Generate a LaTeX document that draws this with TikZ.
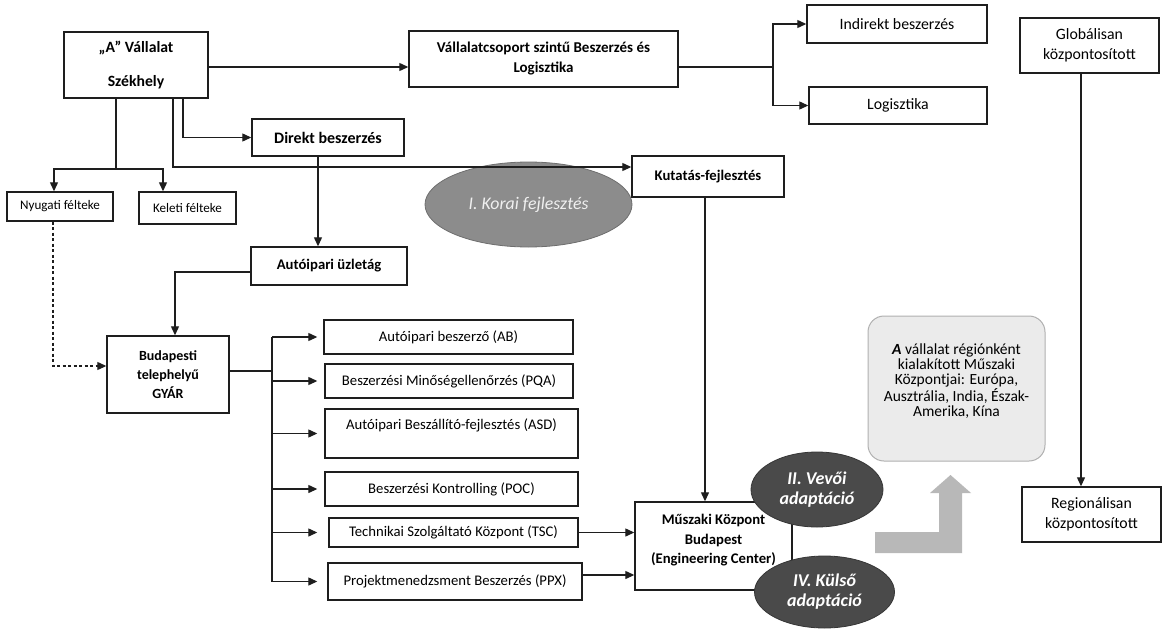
\documentclass[tikz,border=0pt]{standalone}
\usepackage{fontspec}
\setmainfont{Carlito}
\usetikzlibrary{arrows.meta,shapes.geometric}
\definecolor{lndark}{HTML}{1E1E1E}
\definecolor{ellA}{HTML}{8C8C8C}
\definecolor{ellAb}{HTML}{6E6E6E}
\definecolor{ellB}{HTML}{4A4A4A}
\definecolor{ellBb}{HTML}{363636}
\definecolor{rndfill}{HTML}{EBEBEB}
\definecolor{rnddraw}{HTML}{B0B0B0}
\definecolor{bigarr}{HTML}{B8B8B8}
\begin{document}
\begin{tikzpicture}[x=1pt,y=-1pt,
  >={Triangle[length=9pt,width=8pt]},
  arr/.style={->, line width=1.2pt, draw=lndark},
  ln/.style={line width=1.2pt, draw=lndark},
  bx/.style={draw=lndark, line width=1.4pt, fill=white, inner sep=1pt, align=center},
  bb/.style={bx, font=\fontsize{15}{19}\selectfont\bfseries},
  rb/.style={bx, font=\fontsize{15.8}{20}\selectfont},
  lb/.style={bx, font=\fontsize{14.7}{19}\selectfont},
  sb/.style={bx, font=\fontsize{13.1}{16}\selectfont},
  ellgray/.style={ellipse, fill=ellA, draw=ellAb, line width=0.8pt, inner sep=0pt, align=center, text=white!94!black, font=\fontsize{17.8}{20}\selectfont\itshape},
  elldark/.style={ellipse, fill=ellB, draw=ellBb, line width=0.8pt, inner sep=0pt, align=center, text=white, font=\fontsize{18}{20}\selectfont\bfseries\itshape},
  rndbox/.style={draw=rnddraw, fill=rndfill, line width=1pt, rounded corners=16pt, align=center, inner sep=2pt, font=\fontsize{15.5}{15}\selectfont}
]
\useasboundingbox[fill=white] (0,0) rectangle (1164,629);

% ---- boxes
\node[bb, font=\fontsize{15.7}{19}\selectfont\bfseries, minimum width=144pt, minimum height=66pt] (hq) at (136,65) {„A” Vállalat\\[15pt]Székhely};
\node[bb, font=\fontsize{15}{20}\selectfont\bfseries, minimum width=269pt, minimum height=56pt] (vcs) at (543.5,59) {Vállalatcsoport szintű Beszerzés és\\Logisztika};
\node[rb, minimum width=180pt, minimum height=38pt] (ind) at (897,24) {Indirekt beszerzés};
\node[rb, minimum width=178pt, minimum height=37pt] (log) at (898,105.5) {Logisztika};
\node[rb, minimum width=139pt, minimum height=55pt] (glob) at (1089.5,45.5) {Globálisan\\központosított};
\node[rb, minimum width=139pt, minimum height=55pt] (reg) at (1091.5,514.5) {Regionálisan\\központosított};
\node[bb, font=\fontsize{16}{19}\selectfont\bfseries, minimum width=152pt, minimum height=37pt] (direkt) at (328,137.5) {Direkt beszerzés};
\node[bb, font=\fontsize{14.7}{19}\selectfont\bfseries, minimum width=152pt, minimum height=41pt] (kut) at (708,176.5) {Kutatás-fejlesztés};
\node[sb, minimum width=106pt, minimum height=29pt] (nyug) at (60,206.5) {Nyugati félteke};
\node[sb, minimum width=97pt, minimum height=32pt] (kel) at (187.5,208) {Keleti félteke};
\node[bb, font=\fontsize{14.7}{19}\selectfont\bfseries, minimum width=156pt, minimum height=38pt] (auto) at (329,266) {Autóipari üzletág};
\node[bb, font=\fontsize{14}{19}\selectfont\bfseries, minimum width=122pt, minimum height=77pt] (bud) at (168,374.5) {Budapesti\\telephelyű\\GYÁR};
\node[lb, minimum width=249pt, minimum height=34pt] (ab) at (448.5,337) {Autóipari beszerző (AB)};
\node[lb, minimum width=248pt, minimum height=34pt] (pqa) at (449,381) {Beszerzési Minőségellenőrzés (PQA)};
\node[lb, minimum width=253pt, minimum height=49pt] (asd) at (451.5,433.5) {Autóipari Beszállító-fejlesztés (ASD)\\\mbox{}};
\node[lb, minimum width=253pt, minimum height=34pt] (poc) at (451.5,489) {Beszerzési Kontrolling (POC)};
\node[lb, minimum width=249pt, minimum height=29pt] (tsc) at (453.5,532.5) {Technikai Szolgáltató Központ (TSC)};
\node[lb, minimum width=254pt, minimum height=37pt] (ppx) at (455,581.5) {Projektmenedzsment Beszerzés (PPX)};
\node[bb, font=\fontsize{14.7}{19.5}\selectfont\bfseries, minimum width=157pt, minimum height=88pt] (musz) at (713.5,546) {Műszaki Központ\\Budapest\\(Engineering Center)\\[-6pt]\mbox{}};

% ---- rounded info box and big gray arrow
\node[rndbox, minimum width=177pt, minimum height=145pt] (info) at (956.5,388.5) {\textbf{\textit{A}} vállalat régiónként\\kialakított Műszaki\\Központjai: Európa,\\Ausztrália, India, Észak-\\Amerika, Kína\\[2pt]\mbox{}};
\fill[bigarr] (875,532) -- (939,532) -- (939,493) -- (930,493) -- (950.5,475) -- (971,493) -- (962,493) -- (962,553) -- (875,553) -- cycle;

% ---- ellipse I
\node[ellgray, minimum width=207pt, minimum height=85pt] (e1) at (528.5,204.5) {I. Korai fejlesztés};

% ---- connectors
\draw[arr] ([yshift=-2pt]hq.east) -- ([yshift=-2pt]hq.east -| vcs.west);
\coordinate (j1) at (773,67);
\draw[ln] ([yshift=-8pt]vcs.east) -- (j1);
\draw[arr] (j1) |- (ind.west);
\draw[arr] (j1) |- (log.west);

\coordinate (j2) at (116,169);
\draw[ln] (hq.south -| j2) -- (j2);
\draw[arr] (j2) -| ([xshift=-6pt]nyug.north);
\draw[arr] (j2) -| ([xshift=-24.5pt]kel.north);

\draw[arr] ([xshift=47pt]hq.south) |- (direkt.west);
\draw[arr] ([xshift=37pt]hq.south) |- ([yshift=9.5pt]kut.west);

\draw[arr] ([xshift=-10pt]direkt.south) -- ([xshift=-10pt]direkt.south |- auto.north);
\draw[arr] ([yshift=-6pt]auto.west) -| ([xshift=7pt]bud.north);
\draw[arr, dashed, dash pattern=on 3pt off 2.5pt] ([xshift=-7pt]nyug.south) |- ([yshift=8.5pt]bud.west);

\coordinate (tr) at (272,371);
\draw[ln] ([yshift=3.5pt]bud.east) -- (tr);
\draw[ln] (tr |- ab.west) -- (tr |- ppx.west);
\draw[arr, shorten >=6pt] (tr |- ab.west) -- (ab.west);
\draw[arr, shorten >=7pt] (tr |- pqa.west) -- (pqa.west);
\draw[arr, shorten >=7pt] (tr |- asd.west) -- (asd.west);
\draw[arr, shorten >=7pt] (tr |- poc.west) -- (poc.west);
\draw[arr, shorten >=11pt] (tr |- tsc.west) -- (tsc.west);
\draw[arr, shorten >=10pt] (tr |- ppx.west) -- (ppx.west);

\draw[arr] (tsc.east) -- (tsc.east -| musz.west);
\draw[arr] ([yshift=6.5pt]ppx.east) -- ([yshift=6.5pt]ppx.east -| musz.west);
\draw[arr] ([xshift=-3pt]kut.south) -- ([xshift=-3pt]kut.south |- musz.north);
\draw[arr] ([xshift=-8.5pt]glob.south) -- ([xshift=-8.5pt]glob.south |- reg.north);

% ---- dark ellipses
\node[elldark, minimum width=132pt, minimum height=75pt] (e2) at (817,489.5) {II. Vevői\\adaptáció};
\node[elldark, minimum width=140pt, minimum height=72pt] (e4) at (824.5,592) {IV. Külső\\adaptáció};
\end{tikzpicture}
\end{document}
